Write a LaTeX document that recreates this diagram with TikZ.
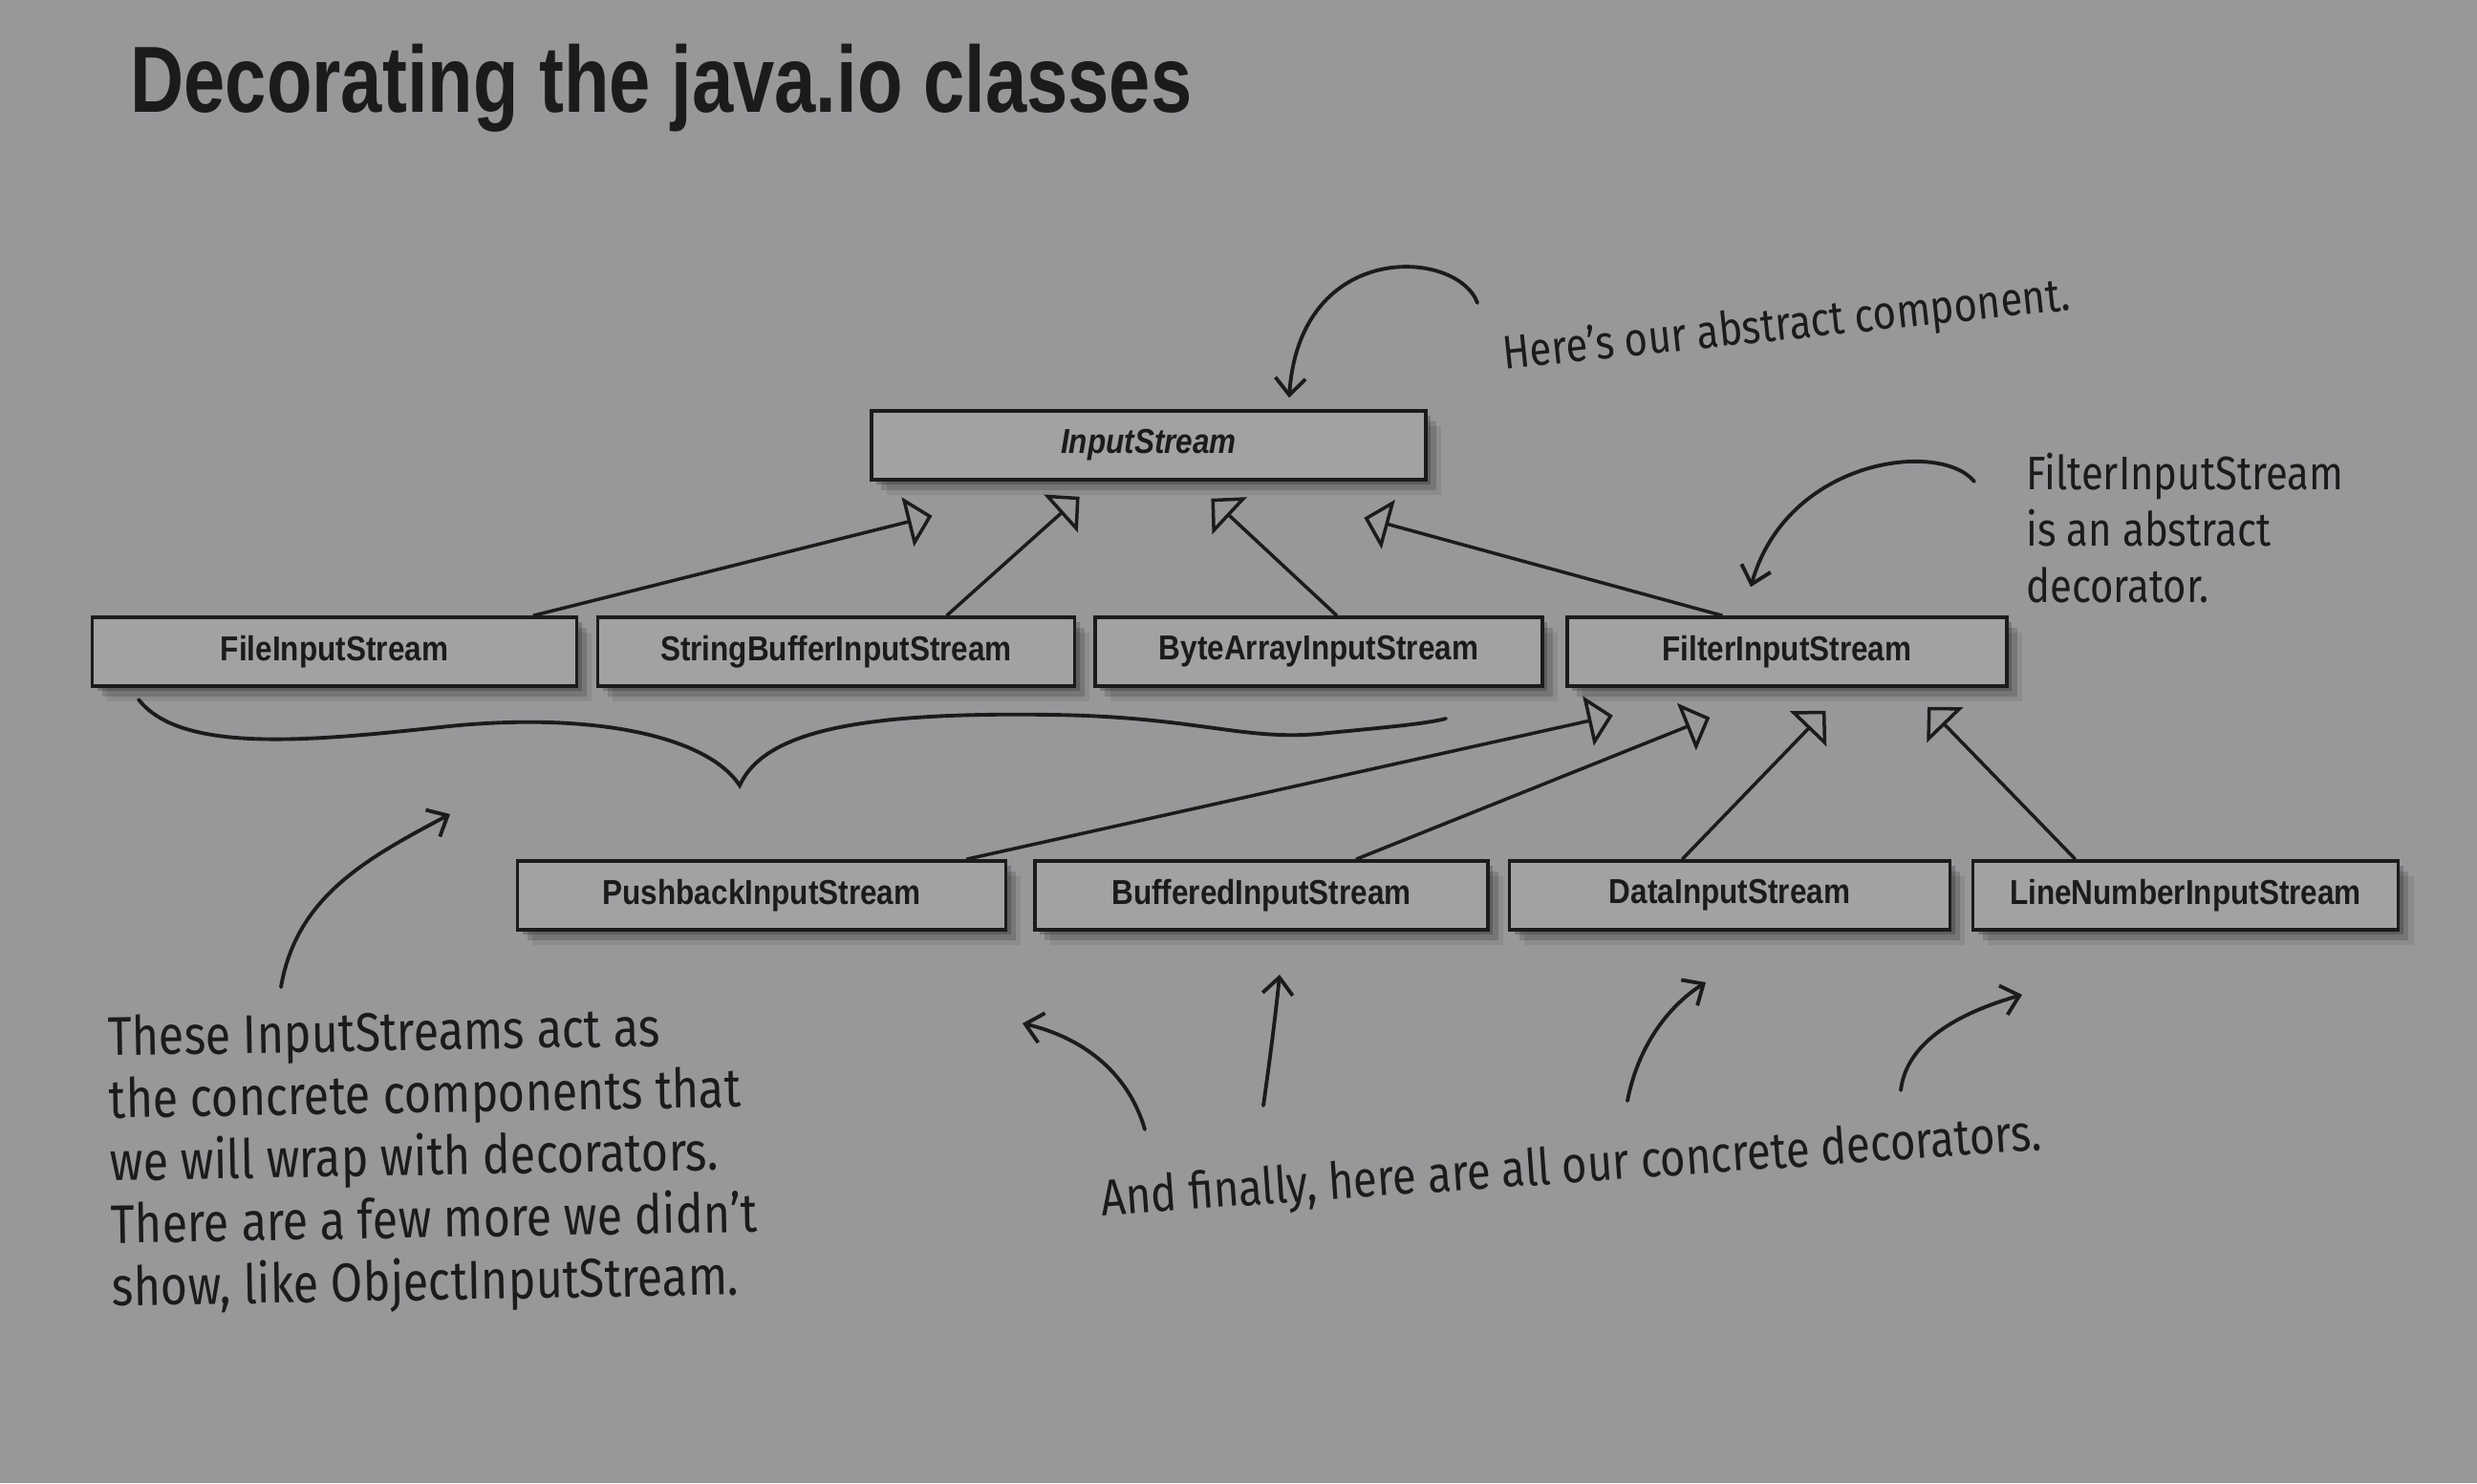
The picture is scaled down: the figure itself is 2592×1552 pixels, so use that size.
\documentclass[tikz,border=0pt]{standalone}
\usepackage{fontspec}
\usepackage{tikz}
\usetikzlibrary{arrows.meta, calc, shadows}

\setmainfont{Liberation Sans}
\newfontfamily\titlefont[FakeStretch=0.79]{Liberation Sans}
\newfontfamily\boxfont[FakeStretch=0.87]{Liberation Sans}
\newfontfamily\handfont[FakeStretch=0.85]{Fira Sans}

\definecolor{page}{RGB}{152,152,155}
\definecolor{boxfill}{RGB}{162,162,165}
\definecolor{ink}{RGB}{26,28,28}

\begin{document}
\begin{tikzpicture}[x=0.01cm, y=-0.01cm,
  cls/.style={draw=ink, line width=1pt, fill=boxfill, minimum height=0.72cm, text=ink,
    font=\boxfont\bfseries\fontsize{10.3}{12}\selectfont,
    drop shadow={shadow xshift=1.5pt, shadow yshift=-1.5pt, fill=black, opacity=0.2},
    drop shadow={shadow xshift=3pt, shadow yshift=-3pt, fill=black, opacity=0.15},
    drop shadow={shadow xshift=4.5pt, shadow yshift=-4.5pt, fill=black, opacity=0.08}},
  inh/.style={draw=ink, line width=1pt,
    -{Triangle[open, length=7.5pt, width=15pt, line width=1pt]}},
  hand/.style={font=\handfont\fontsize{14}{17}\selectfont, text=ink, align=left},
  note/.style={draw=ink, line width=1.1pt, line cap=round,
    -{Straight Barb[length=5pt, width=9pt]}}]

% Page
\fill[page] (0,0) rectangle (2592,1552);

% Title
\node[anchor=base west, text=ink, font=\titlefont\bfseries\fontsize{28}{32}\selectfont] (title) at (124,118) {Decorating the java.io classes};

% Component
\node[cls, minimum width=5.8cm, font=\boxfont\bfseries\itshape\fontsize{10.3}{12}\selectfont] (is) at (1202,466) {InputStream};

% Concrete components and the decorator
\node[cls, minimum width=5.07cm] (fis) at (350,682) {FileInputStream};
\node[cls, minimum width=4.99cm] (sbis) at (875,682) {StringBufferInputStream};
\node[cls, minimum width=4.68cm] (bais) at (1380,682) {ByteArrayInputStream};
\node[cls, minimum width=4.60cm] (filis) at (1870,682) {FilterInputStream};

% Concrete decorators
\node[cls, minimum width=5.11cm] (pbis) at (797,937) {PushbackInputStream};
\node[cls, minimum width=4.74cm] (bufis) at (1320,937) {BufferedInputStream};
\node[cls, minimum width=4.61cm] (dis) at (1810,937) {DataInputStream};
\node[cls, minimum width=4.45cm] (lnis) at (2287,937) {LineNumberInputStream};

% Inheritance (child/start/tip/gap)
\foreach \c/\f/\t/\g in {fis/0.907/0.112/36, sbis/0.73/0.376/16, bais/0.54/0.612/18, filis/0.354/0.886/38}
  \draw[inh] ($(\c.north west)!\f!(\c.north east)$) -- ($(is.south west)!\t!(is.south east)+(0,\g)$);
\foreach \c/\f/\t/\g in {pbis/0.916/0.107/29, bufis/0.707/0.326/31, dis/0.393/0.587/24, lnis/0.243/0.817/20}
  \draw[inh] ($(\c.north west)!\f!(\c.north east)$) -- ($(filis.south west)!\t!(filis.south east)+(0,\g)$);

% Notes
\node[hand, anchor=base west, rotate=6] (abs) at (1562,388) {Here’s our abstract component.};
\node[hand, anchor=north west, font=\handfont\fontsize{14}{16.8}\selectfont] (absdec) at (2108,462) {FilterInputStream\\is an abstract\\decorator.};
\node[hand, anchor=north west, rotate=1, font=\handfont\fontsize{16.2}{18.6}\selectfont] (conc) at (100,1050) {These InputStreams act as\\the concrete components that\\we will wrap with decorators.\\There are a few more we didn’t\\show, like ObjectInputStream.};
\node[hand, anchor=base west, rotate=4, font=\handfont\fontsize{15.2}{18}\selectfont] (condec) at (1141,1273) {And finally, here are all our concrete decorators.};

% Hand drawn arrows
\coordinate (absdec-s) at (2066,504);
\coordinate (abs-s) at (1546,317);
\coordinate (conc-s) at (294,1033);
\draw[note] (abs-s) .. controls (1525,260) and (1360,250) .. ($(is.north)+(147,-12)$);
\draw[note] (absdec-s) .. controls (2030,460) and (1870,480) .. ($(filis.north)+(-38,-30)$);
\draw[note] (conc-s) .. controls (310,940) and (380,900) .. (471,852);
\draw[note] (1198,1182) .. controls (1180,1120) and (1130,1085) .. (1070,1071);
\draw[note] (1322,1157) .. controls (1330,1100) and (1335,1060) .. (1339,1020);
\draw[note] (1703,1152) .. controls (1715,1090) and (1750,1050) .. (1785,1028);
\draw[note] (1989,1141) .. controls (1995,1090) and (2050,1060) .. (2116,1041);

% Brace
\draw[ink, line width=1.1pt, line cap=round] (145,732) .. controls (190,790) and (330,775) .. (470,760)
  .. controls (620,745) and (740,770) .. (774,822)
  .. controls (800,765) and (900,745) .. (1100,748)
  .. controls (1250,750) and (1300,775) .. (1380,768)
  .. controls (1440,762) and (1490,758) .. (1513,752);

\end{tikzpicture}
\end{document}
